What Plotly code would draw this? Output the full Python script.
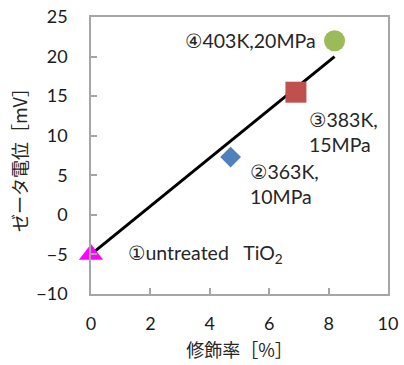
import plotly.graph_objects as go

# data
circ = ["①", "②", "③", "④"]
labels = ["untreated   TiO<sub>2</sub>", "363K,<br>10MPa", "383K,<br>15MPa", "403K,20MPa"]
mod_rate = [0.0, 4.7, 6.9, 8.2]
zeta = [-5.0, 7.3, 15.5, 22.0]
marker_symbols = ["triangle-up", "diamond", "square", "circle"]
marker_colors = ["#FF00FF", "#4F81BD", "#C0504D", "#9BBB59"]
marker_sizes = [21, 16, 21, 21]
fit_x = [0.0, 8.2]
fit_y = [-5.0, 20.0]
x_ticks = [0, 2, 4, 6, 8, 10]
y_ticks = [-10, -5, 0, 5, 10, 15, 20, 25]

font_main = "Lato, 'DejaVu Sans', 'Noto Sans CJK JP', sans-serif"

fig = go.Figure()
fig.add_trace(go.Scatter(x=fit_x, y=fit_y, mode="lines",
                         line=dict(color="black", width=3), showlegend=False,
                         hoverinfo="skip"))
for i in range(len(mod_rate)):
    fig.add_trace(go.Scatter(x=[mod_rate[i]], y=[zeta[i]], mode="markers",
                             marker=dict(symbol=marker_symbols[i], color=marker_colors[i],
                                         size=marker_sizes[i], line=dict(width=0)),
                             showlegend=False, cliponaxis=False))

# annotation anchor positions
ann = [
    dict(x=1.18, y=-5.0, xanchor="left", yanchor="middle", align="left"),
    dict(x=5.29, y=3.9, xanchor="left", yanchor="middle", align="left"),
    dict(x=7.27, y=10.5, xanchor="left", yanchor="middle", align="left"),
    dict(x=7.64, y=22.0, xanchor="right", yanchor="middle", align="left"),
]
for i, a in enumerate(ann):
    txt = "<span style=\"font-family:'DejaVu Sans'\">" + circ[i] + "</span>" + labels[i]
    fig.add_annotation(text=txt, showarrow=False,
                       font=dict(family=font_main, size=19.5, color="#262626"), **a)

axis_common = dict(showline=True, linecolor="#A6A6A6", linewidth=1.5, mirror=True,
                   ticks="inside", ticklen=6, tickcolor="#A6A6A6", tickwidth=1.5,
                   showgrid=False, zeroline=False, automargin=False,
                   ticklabeloverflow="allow",
                   tickfont=dict(family=font_main, size=18, color="#1a1a1a"))

title_font = dict(family="'Noto Sans CJK JP', sans-serif", size=18, color="#262626")
fig.update_xaxes(range=[0, 10], tickvals=x_ticks, ticklabelstandoff=13,
                 title=dict(text="修飾率［%］", font=title_font, standoff=11),
                 **axis_common)
fig.update_yaxes(range=[-10, 25], tickvals=y_ticks, ticklabelstandoff=18,
                 title=dict(text="ゼータ電位［mV］", font=title_font, standoff=4),
                 **axis_common)

fig.update_layout(width=404, height=365, margin=dict(l=91, r=16, t=17, b=71),
                  paper_bgcolor="white", plot_bgcolor="white")

fig.write_html("out.html", config={"displayModeBar": False},
               post_script="document.body.style.margin='0';")
